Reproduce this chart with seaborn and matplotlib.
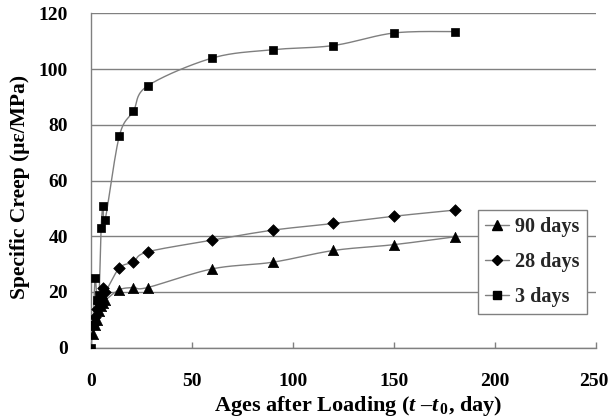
import numpy as np
import pandas as pd
import matplotlib
matplotlib.use("Agg")
import matplotlib.pyplot as plt
from matplotlib.lines import Line2D
import seaborn as sns

# ---- data ----
t_90 = [1, 2, 3, 4, 5, 6, 7, 14, 21, 28, 60, 90, 120, 150, 180]
c_90 = [5, 8, 10, 13, 15, 16, 17, 20.8, 21.6, 21.6, 28.3, 30.7, 34.9, 37.0, 39.8]

t_28 = [1, 2, 3, 4, 5, 6, 7, 14, 21, 28, 60, 90, 120, 150, 180]
c_28 = [8, 11, 14, 16, 18, 21.6, 20, 28.6, 30.8, 34.4, 38.6, 42.2, 44.6, 47.2, 49.4]

t_3 = [0, 1, 2, 3, 4, 5, 6, 7, 14, 21, 28, 60, 90, 120, 150, 180]
c_3 = [0, 8, 25, 17, 19, 43, 51, 46, 76, 85, 94, 104, 107, 108.5, 113, 113.5]

series_names = ["90 days", "28 days", "3 days"]
series_markers = ["^", "D", "s"]

x_ticks = [0, 50, 100, 150, 200, 250]
y_ticks = [0, 20, 40, 60, 80, 100, 120]


def smooth(xs, ys, sx, sy, n=20):
    """Excel-like smoothed line (Catmull-Rom Bezier) computed in display-scaled space."""
    P = np.column_stack([np.asarray(xs, float) * sx, np.asarray(ys, float) * sy])
    out = [P[0]]
    for i in range(len(P) - 1):
        p0 = P[i - 1] if i > 0 else P[i]
        p1 = P[i]
        p2 = P[i + 1]
        p3 = P[i + 2] if i + 2 < len(P) else P[i + 1]
        c1 = p1 + (p2 - p0) / 6.0
        c2 = p2 - (p3 - p1) / 6.0
        u = np.linspace(0, 1, n)[1:, None]
        seg = ((1 - u) ** 3) * p1 + 3 * ((1 - u) ** 2) * u * c1 + 3 * (1 - u) * u ** 2 * c2 + u ** 3 * p2
        out.extend(seg)
    out = np.array(out)
    return out[:, 0] / sx, out[:, 1] / sy


sns.set_theme(style="white")
plt.rcParams["font.family"] = ["Liberation Serif", "DejaVu Serif"]
plt.rcParams["font.weight"] = "bold"
plt.rcParams["mathtext.fontset"] = "custom"
plt.rcParams["mathtext.rm"] = "Liberation Serif:bold"
plt.rcParams["mathtext.bf"] = "Liberation Serif:bold"
plt.rcParams["mathtext.it"] = "Liberation Serif:italic:bold"

fig = plt.figure(figsize=(6.08, 4.19), dpi=100)
ax = fig.add_axes([0.1497, 0.1702, 0.8306, 0.7976])

sx, sy = 505 / 250, 334 / 120
data = [(t_90, c_90), (t_28, c_28), (t_3, c_3)]
for (t, c), name, mk in zip(data, series_names, series_markers):
    xs, ys = smooth(t, c, sx, sy)
    sns.lineplot(x=xs, y=ys, sort=False, ax=ax, color="#7f7f7f", linewidth=1.0, zorder=2)
    ms = 55 if mk == "^" else (35 if mk == "D" else 40)
    sns.scatterplot(x=t, y=c, marker=mk, s=ms, color="black", edgecolor="black",
                    linewidth=0.5, ax=ax, zorder=3)

ax.set_xlim(0, 250)
ax.set_ylim(0, 120)
ax.set_xticks(x_ticks)
ax.set_yticks(y_ticks)
xlabels = [str(v) for v in x_ticks]
ax.set_xticklabels(xlabels[:-1] + [""], fontsize=14, fontweight="bold", color="black")
ax.set_yticklabels([str(v) for v in y_ticks], fontsize=14, fontweight="bold", color="black")
# last x tick label nudged left so it stays inside the figure
ax.annotate(xlabels[-1], xy=(x_ticks[-1], 0), xycoords=("data", "axes fraction"),
            xytext=(-1.5, -18), textcoords="offset points", ha="center", va="top",
            fontsize=14, fontweight="bold", color="black")

ax.yaxis.grid(True, color="#808080", linewidth=1.0)
ax.xaxis.grid(False)
for side in ["top", "right"]:
    ax.spines[side].set_visible(False)
for side in ["left", "bottom"]:
    ax.spines[side].set_color("#808080")
    ax.spines[side].set_linewidth(1.0)
ax.tick_params(axis="x", direction="in", length=4, color="#808080", width=1, pad=18,
               bottom=True)
ax.tick_params(axis="y", length=0, pad=16.5)

ax.set_xlabel("Ages after Loading ($\\it{t}$ \u2013$\\it{t}_{\\rm\\,0}$, day)",
              fontsize=16, fontweight="bold", color="black")
ax.xaxis.set_label_coords(0.529, -0.14)
ax.set_ylabel("Specific Creep (\u03bc\u03b5/MPa)", fontsize=15.5, fontweight="bold",
              color="black")
ax.yaxis.set_label_coords(-0.12, 0.48)

handles = [Line2D([0], [0], color="#7f7f7f", lw=1.0, marker=mk, markersize=ms,
                  markerfacecolor="black", markeredgecolor="black")
           for mk, ms in zip(series_markers, [7, 5.5, 5.5])]
leg = ax.legend(handles, series_names, loc="upper left", bbox_to_anchor=(0.766, 0.412),
                borderaxespad=0, frameon=True, fancybox=False,
                prop={"size": 14.5, "weight": "bold"},
                handlelength=1.2, handletextpad=0.3, borderpad=0.35, labelspacing=0.75)
leg.get_frame().set_edgecolor("#808080")
leg.get_frame().set_linewidth(1.0)
leg.get_frame().set_alpha(1.0)

fig.savefig("out.png", dpi=100)
